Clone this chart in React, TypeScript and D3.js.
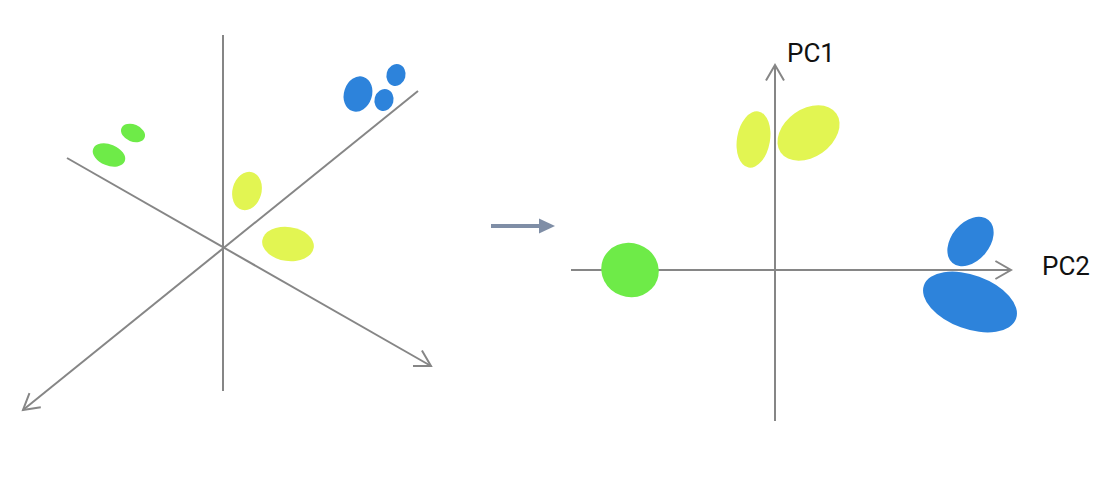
import React from "react";
import * as d3 from "d3";

// cluster colours
const groupColors: Record<string, string> = {
  green: "#6eeb48",
  yellow: "#e2f552",
  blue: "#2d83db",
};

// left panel: original 3D space, origin at the crossing of the three axes
const leftAxes = [
  { from: [0, 213], to: [0, -143], arrow: false },
  { from: [-156, 90], to: [208, -118], arrow: true },
  { from: [195, 157], to: [-200, -162], arrow: true },
];

const leftClusters = [
  { group: "green", x: -114, y: 93, rx: 17, ry: 10.5, rot: 22 },
  { group: "green", x: -90, y: 115, rx: 12.5, ry: 8.5, rot: 22 },
  { group: "yellow", x: 24, y: 57, rx: 14.5, ry: 19.5, rot: 15 },
  { group: "yellow", x: 65, y: 4, rx: 26, ry: 17, rot: 8 },
  { group: "blue", x: 135, y: 154, rx: 14, ry: 18, rot: 18 },
  { group: "blue", x: 161, y: 148, rx: 9.5, ry: 11, rot: 15 },
  { group: "blue", x: 173, y: 173, rx: 9.5, ry: 11, rot: 15 },
];

// right panel: projection on the first two principal components
const rightAxes = [
  { from: [-204, 0], to: [236, 0], arrow: true, label: "PC2" },
  { from: [0, -151], to: [0, 205], arrow: true, label: "PC1" },
];

const rightClusters = [
  { group: "green", x: -145, y: 0, rx: 29, ry: 27, rot: 20 },
  { group: "yellow", x: -21.5, y: 130.5, rx: 16.5, ry: 28.5, rot: 10 },
  { group: "yellow", x: 33.5, y: 137, rx: 34, ry: 24, rot: -35 },
  { group: "blue", x: 195.5, y: 28.5, rx: 28, ry: 19, rot: -50 },
  { group: "blue", x: 195, y: -32, rx: 49, ry: 27, rot: 20 },
];

const AXIS_COLOR = "#868686";
const HEAD_LEN = 18;
const HEAD_ANGLE = Math.PI / 6;

type Scale = d3.ScaleLinear<number, number>;

function arrowHead(x1: number, y1: number, x2: number, y2: number) {
  const ang = Math.atan2(y2 - y1, x2 - x1);
  const pts = [ang + Math.PI - HEAD_ANGLE, ang + Math.PI + HEAD_ANGLE].map(
    (a) => [x2 + HEAD_LEN * Math.cos(a), y2 + HEAD_LEN * Math.sin(a)]
  );
  return `M${pts[0][0]},${pts[0][1]}L${x2},${y2}L${pts[1][0]},${pts[1][1]}`;
}

const Panel = ({ axes, clusters, x, y }: { axes: any[]; clusters: any[]; x: Scale; y: Scale }) => (
  <g>
    {axes.map((a, i) => {
      const x1 = x(a.from[0]),
        y1 = y(a.from[1]),
        x2 = x(a.to[0]),
        y2 = y(a.to[1]);
      return (
        <g key={i} stroke={AXIS_COLOR} strokeWidth={2} fill="none">
          <line x1={x1} y1={y1} x2={x2} y2={y2} />
          {a.arrow && <path d={arrowHead(x1, y1, x2, y2)} />}
        </g>
      );
    })}
    {clusters.map((c, i) => (
      <ellipse
        key={i}
        cx={0}
        cy={0}
        rx={c.rx}
        ry={c.ry}
        fill={groupColors[c.group]}
        transform={`translate(${x(c.x)},${y(c.y)}) rotate(${c.rot})`}
      />
    ))}
  </g>
);

export default function App() {
  const width = 1114,
    height = 477;

  const xL = d3.scaleLinear().domain([-200, 208]).range([23, 431]);
  const yL = d3.scaleLinear().domain([-162, 213]).range([410, 35]);

  const xR = d3.scaleLinear().domain([-204, 236]).range([571, 1011]);
  const yR = d3.scaleLinear().domain([-151, 205]).range([421, 65]);

  return (
    <svg
      width={width}
      height={height}
      style={{ position: "absolute", left: 0, top: 0, background: "#fff" }}
      fontFamily="Roboto, 'Noto Sans', sans-serif"
    >
      <Panel axes={leftAxes} clusters={leftClusters} x={xL} y={yL} />

      {/* transition arrow */}
      <g fill="#7f8ea6">
        <rect x={491} y={224} width={50} height={4} />
        <path d="M539,218.5L555,226L539,233.5Z" />
      </g>

      <Panel axes={rightAxes} clusters={rightClusters} x={xR} y={yR} />

      <text x={xR(236) + 31} y={yR(0) + 5} fontSize={26} fill="#111">
        PC2
      </text>
      <text x={xR(0) + 12} y={yR(205) - 3} fontSize={26} fill="#111">
        PC1
      </text>
    </svg>
  );
}
